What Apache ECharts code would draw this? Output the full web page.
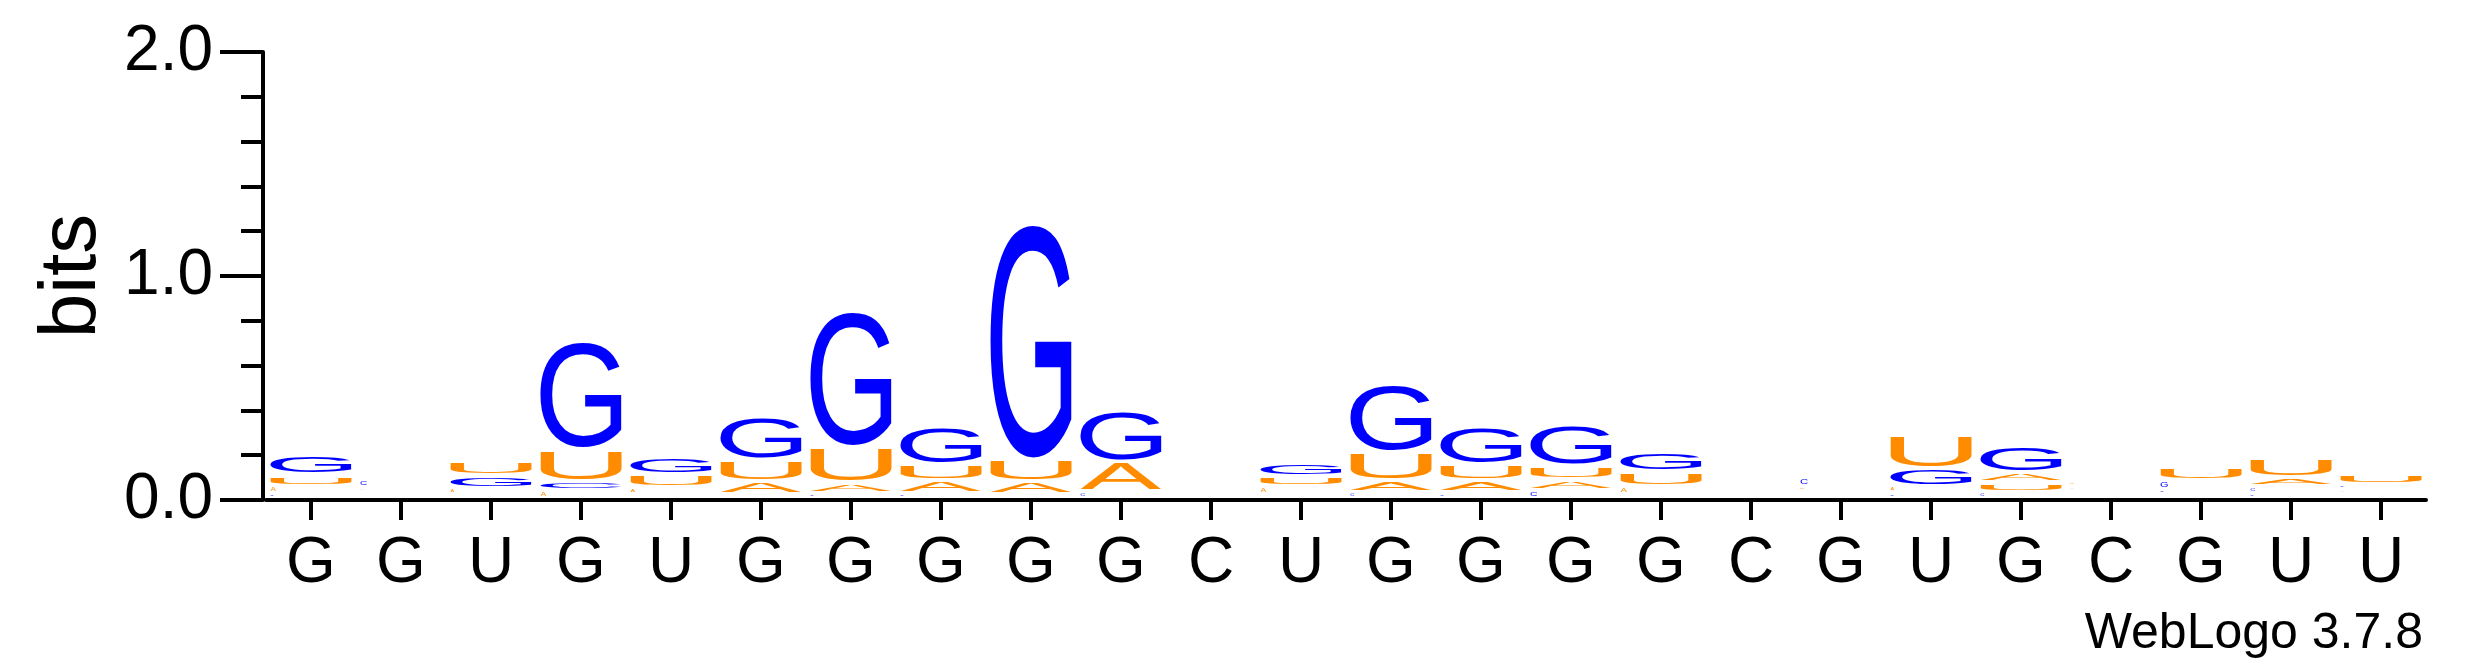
<!DOCTYPE html>
<html><head><meta charset="utf-8">
<script src="https://cdn.jsdelivr.net/npm/echarts@6/dist/echarts.min.js"></script>
<style>html,body{margin:0;padding:0;background:#fff}#c{width:2475px;height:667px}</style>
</head><body><div id="c"></div>
<script>
// consensus labels on the x axis
const positions = ['G','G','U','G','U','G','G','G','G','G','C','U','G','G','G','G','C','G','U','G','C','G','U','U'];
// information (bits) per nucleotide per position
const bitsA = [0.033,0.022,0.027,0.034,0.030,0.059,0.049,0.059,0.060,0.131,0,0.034,0.051,0.054,0.049,0.037,0,0.016,0.027,0.046,0.022,0.020,0.042,0.022];
const bitsC = [0.022,0.036,0.018,0.042,0.018,0.018,0.022,0.022,0.016,0.030,0,0.018,0.027,0.025,0.037,0.018,0,0.039,0.025,0.027,0.017,0.021,0.030,0.023];
const bitsG = [0.089,0.013,0.055,0.481,0.076,0.191,0.607,0.171,1.054,0.229,0,0.057,0.307,0.171,0.180,0.089,0,0.015,0.079,0.115,0.016,0.039,0.022,0.018];
const bitsU = [0.049,0.014,0.061,0.141,0.059,0.094,0.159,0.067,0.096,0,0,0.047,0.129,0.070,0.058,0.064,0,0.022,0.152,0.043,0.023,0.057,0.085,0.049];
const yTicks = [0, 1, 2];
const footer = 'WebLogo 3.7.8';

const LETTERS = ['A','C','G','U'];
const SERIES_BITS = [bitsA, bitsC, bitsG, bitsU];
const COLORS = {A:'#FF8C00', U:'#FF8C00', G:'#0000FF', C:'#0000FF'};
const FAMILY = '"Liberation Sans", Arial, Helvetica, sans-serif';
const MFONT = 200;
const GAP = 4;

const mctx = document.createElement('canvas').getContext('2d');
mctx.font = MFONT + 'px ' + FAMILY;
mctx.textBaseline = 'middle';
mctx.textAlign = 'left';
const metrics = {};
LETTERS.forEach(l => {
  const m = mctx.measureText(l);
  metrics[l] = {left: m.actualBoundingBoxLeft, right: m.actualBoundingBoxRight, asc: m.actualBoundingBoxAscent, desc: m.actualBoundingBoxDescent};
});

// build stacked data: smallest at bottom
const data = [];
positions.forEach((p, i) => {
  const items = LETTERS.map((l, li) => ({li, v: SERIES_BITS[li][i]})).filter(o => o.v > 0);
  items.sort((a, b) => a.v - b.v);
  let base = 0;
  items.forEach(o => { data.push([i, base, o.v, o.li]); base += o.v; });
});

function renderItem(params, api) {
  const pos = api.value(0), base = api.value(1), val = api.value(2), li = api.value(3);
  const letter = LETTERS[li];
  const p0 = api.coord([pos, base]);
  const p1 = api.coord([pos, base + val]);
  const band = api.size([1, 0])[0];
  const boxW = band * 0.9;
  const left = p0[0] - boxW / 2;
  const bottom = p0[1] - GAP;
  const top = p1[1];
  const h = bottom - top;
  if (h < 0.6) return {type: 'group', children: []};
  let w = boxW;
  if (h < 5) w = Math.max(3, h * 1.3 + 1);
  const m = metrics[letter];
  const inkW = m.left + m.right, inkH = m.asc + m.desc;
  return {
    type: 'text',
    x: left, y: bottom,
    scaleX: w / inkW, scaleY: h / inkH,
    silent: true,
    style: {
      text: letter, x: m.left, y: -m.desc,
      fill: COLORS[letter],
      font: MFONT + 'px ' + FAMILY,
      align: 'left', verticalAlign: 'middle',
      textAlign: 'left', textVerticalAlign: 'middle'
    }
  };
}

const chart = echarts.init(document.getElementById('c'), null, {renderer: 'canvas'});
chart.setOption({
  animation: false,
  backgroundColor: '#ffffff',
  grid: {left: 266, right: 49, top: 52, bottom: 167, containLabel: false},
  xAxis: {
    type: 'category',
    data: positions,
    boundaryGap: true,
    axisLine: {show: true, lineStyle: {color: '#000', width: 4}},
    axisTick: {show: true, alignWithLabel: true, length: 20, lineStyle: {color: '#000', width: 4}},
    axisLabel: {show: true, interval: 0, margin: 32, color: '#000', fontSize: 64, fontFamily: FAMILY},
    splitLine: {show: false}
  },
  yAxis: {
    type: 'value',
    min: yTicks[0], max: yTicks[yTicks.length - 1], interval: 1,
    offset: 3,
    name: 'bits', nameLocation: 'middle', nameRotate: 90, nameGap: 150,
    nameTextStyle: {color: '#000', fontSize: 80, fontFamily: FAMILY},
    axisLine: {show: true, lineStyle: {color: '#000', width: 4}},
    axisTick: {show: true, length: 43, lineStyle: {color: '#000', width: 4}},
    minorTick: {show: true, splitNumber: 5, length: 22, lineStyle: {color: '#000', width: 4}},
    axisLabel: {show: true, margin: 50, color: '#000', fontSize: 64, fontFamily: FAMILY, formatter: v => v.toFixed(1)},
    splitLine: {show: false},
    minorSplitLine: {show: false}
  },
  graphic: [{
    type: 'text', right: 52, top: 609,
    style: {text: footer, font: '50px ' + FAMILY, fill: '#000'}
  }],
  series: [{
    type: 'custom',
    renderItem: renderItem,
    data: data,
    encode: {x: 0, y: 1},
    clip: false
  }]
});
</script></body></html>
